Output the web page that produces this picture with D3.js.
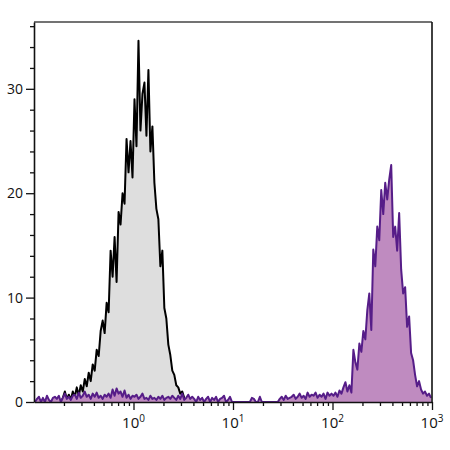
<!DOCTYPE html>
<html>
<head>
<meta charset="utf-8">
<script src="https://cdn.jsdelivr.net/npm/d3@7"></script>
<style>
    body { margin: 0; background: #fff; }
    text { font-family: "Open Sans", sans-serif; fill: #111; }
</style>
</head>
<body>
<svg id="chart" width="450" height="450"></svg>
<script>
// channel grid: 50 channels per decade, 10^-1 .. 10^3
var logMin = -1;
var chPerDecade = 50;

// unstained control (gray), starts at channel 13
var grayStart = 13;
var grayCounts = [
    0, 0.4, 1.0, 0.3, 0.7, 0.2, 1.0, 0.5, 1.4, 0.6,
    1.6, 1.0, 2.2, 1.5, 2.8, 2.0, 3.6, 3.0, 5.0, 4.4,
    6.8, 7.8, 6.6, 9.5, 8.6, 14.5, 12.0, 15.8, 11.5, 18.2,
    17.0, 20.0, 19.0, 25.2, 22.0, 25.0, 21.5, 29.0, 24.5, 34.6,
    26.0, 29.5, 30.6, 25.5, 31.8, 24.0, 26.4, 21.0, 18.5, 17.5,
    13.0, 14.5, 9.0, 8.0, 5.5, 4.5, 3.0, 2.6, 1.6, 1.4,
    0.8, 1.0, 0.4, 0
];

// stained sample (purple), channels 0..199
var purpleCounts = [
    0, 0.3, 0.5, 0, 0.4, 0, 0.6, 0.2, 0, 0.4,
    0.5, 0.3, 0.6, 0, 0.4, 0.8, 0.3, 0.5, 0.2, 0.6,
    0.7, 0.3, 0.9, 0.4, 0.6, 1.0, 0.5, 0.7, 0.3, 0.8,
    0.5, 0.9, 0.4, 0.6, 0.3, 0.7, 0.5, 0.8, 0.4, 1.2,
    0.6, 1.3, 0.8, 1.0, 0.5, 1.1, 0.4, 0.7, 0.3, 0.6,
    0.5, 0.7, 0.3, 0.5, 0.8, 0.3, 0.4, 0.2, 0.6, 0.3,
    0.4, 0.2, 0.5, 0.3, 0.6, 0.2, 0.4, 0.5, 0.3, 0.6,
    0.4, 0.2, 0.6, 0.3, 0.8, 0.2, 0.4, 0.7, 0.3, 0.5,
    0.3, 0, 0.5, 0.2, 0.4, 0, 0.3, 0.5, 0, 0.4,
    0.2, 0.5, 0, 0.3, 0.4, 0.6, 0, 0.2, 0.5, 0,
    0, 0, 0, 0, 0, 0, 0, 0, 0, 0.4,
    0.3, 0, 0, 0.5, 0, 0, 0, 0, 0, 0,
    0, 0, 0, 0.3, 0.5, 0.2, 0.6, 0.3, 0.4, 0.5,
    0.7, 0.3, 0.5, 0.8, 0.4, 0.6, 0.3, 0.9, 0.5, 0.7,
    0.6, 0.9, 0.4, 0.7, 0.5, 0.8, 0.3, 0.9, 0.6, 0.8,
    0.6, 0.9, 0.5, 1.1, 0.8, 1.4, 1.9, 1.0, 1.6, 0.9,
    5.0, 3.8, 3.1, 5.6, 4.8, 6.8, 6.0, 8.8, 10.4, 6.9,
    14.6, 13.0, 16.8, 15.5, 20.3, 18.0, 21.0, 19.4, 21.3, 22.7,
    15.8, 16.8, 14.5, 18.1, 12.7, 10.4, 11.0, 7.2, 8.2, 4.7,
    4.0, 2.6, 1.5, 2.0, 1.2, 0.8, 1.0, 0.6, 0.8, 0.4
];

var yMajor = [0, 10, 20, 30];
var yMinor = [2, 4, 6, 8, 12, 14, 16, 18, 22, 24, 26, 28, 32, 34, 36];
var xDecades = [0, 1, 2, 3];
var xMinorMult = [2, 3, 4, 5, 6, 7, 8, 9];

function toPoints(counts, start) {
    return counts.map(function (c, i) {
        var ch = start + i;
        return { v: Math.pow(10, logMin + (ch + 0.5) / chPerDecade), c: c };
    });
}

var svg = d3.select("#chart");
var pLeft = 34, pRight = 432, pTop = 22, pBottom = 402;

var x = d3.scaleLog().domain([0.1, 1000]).range([pLeft, pRight]);
var y = d3.scaleLinear().domain([0, 36.4]).range([pBottom, pTop]);

var area = d3.area()
    .x(function (d) { return x(d.v); })
    .y0(y(0))
    .y1(function (d) { return y(d.c); });

var line = d3.line()
    .x(function (d) { return x(d.v); })
    .y(function (d) { return y(d.c); });

var gray = toPoints(grayCounts, grayStart);
var purple = toPoints(purpleCounts, 0);

svg.append("path").datum(gray)
    .attr("d", area).attr("fill", "#dedede");
svg.append("path").datum(gray)
    .attr("d", line).attr("fill", "none")
    .attr("stroke", "#000").attr("stroke-width", 2).attr("stroke-linejoin", "round");

svg.append("path").datum(purple)
    .attr("d", area).attr("fill", "#bf8bc0");
svg.append("path").datum(purple)
    .attr("d", line).attr("fill", "none")
    .attr("stroke", "#561d88").attr("stroke-width", 2).attr("stroke-linejoin", "round");

// frame
svg.append("line").attr("x1", pLeft).attr("x2", pRight).attr("y1", pTop).attr("y2", pTop)
    .attr("stroke", "#444").attr("stroke-width", 1.6);
svg.append("line").attr("x1", pRight).attr("x2", pRight).attr("y1", pTop).attr("y2", pBottom)
    .attr("stroke", "#111").attr("stroke-width", 1.6);

/* y axis */
var yMin = svg.append("g").attr("transform", "translate(" + pLeft + ",0)")
    .call(d3.axisLeft(y).tickValues(yMinor).tickSize(4).tickFormat(""));
yMin.select(".domain").remove();

var yAx = svg.append("g").attr("transform", "translate(" + pLeft + ",0)")
    .call(d3.axisLeft(y).tickValues(yMajor).tickSize(8).tickSizeOuter(0).tickPadding(3));
yAx.selectAll("text").style("font-size", "14px").style("font-family", "Open Sans, sans-serif");

/* x axis */
var xMinor = [];
[-1, 0, 1, 2].forEach(function (d) {
    xMinorMult.forEach(function (m) { xMinor.push(m * Math.pow(10, d)); });
});

var xMin = svg.append("g").attr("transform", "translate(0," + pBottom + ")")
    .call(d3.axisBottom(x).tickValues(xMinor).tickSize(4).tickFormat(""));
xMin.select(".domain").remove();

var xAx = svg.append("g").attr("transform", "translate(0," + pBottom + ")")
    .call(d3.axisBottom(x).tickValues(xDecades.map(function (d) { return Math.pow(10, d); }))
        .tickSize(8).tickSizeOuter(0).tickFormat(""));

svg.selectAll(".tick line").attr("stroke", "#111").attr("stroke-width", 1.3);
svg.selectAll(".domain").attr("stroke", "#111").attr("stroke-width", 1.6);

var lbl = svg.append("g").selectAll("text")
    .data(xDecades).enter().append("text")
    .attr("x", function (d) { return x(Math.pow(10, d)); })
    .attr("y", 428)
    .attr("text-anchor", "middle")
    .style("font-size", "15px");
lbl.append("tspan").text("10");
lbl.append("tspan").attr("dy", -6).style("font-size", "10px")
    .text(function (d) { return d; });
</script>
</body>
</html>
